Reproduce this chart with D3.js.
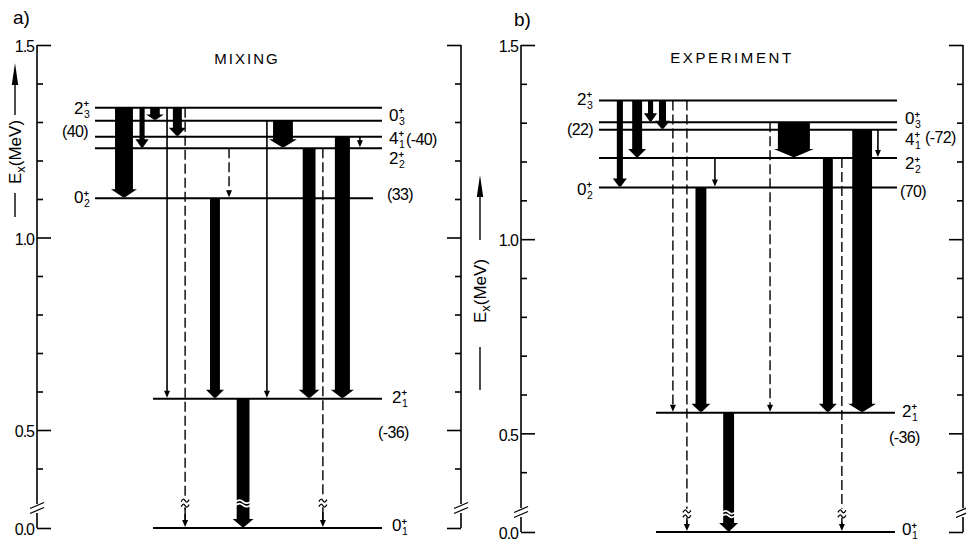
<!DOCTYPE html>
<html>
<head>
<meta charset="utf-8">
<script src="https://cdn.jsdelivr.net/npm/d3@7"></script>
<style>
  body { margin: 0; background: #fff; }
  text { font-family: "Liberation Sans", "DejaVu Sans", sans-serif; fill: #000; }
</style>
</head>
<body>
<svg id="chart" width="966" height="542"></svg>
<script>
// level order: 0_1, 2_1, 0_2, 2_2, 4_1, 0_3, 2_3
var levelKeys = ["01", "21", "02", "22", "41", "03", "23"];
var levelSpin = ["0", "2", "0", "2", "4", "0", "2"];
var levelIndex = ["1", "1", "2", "2", "1", "3", "3"];
var mixingEnergy = [0.0, 0.581, 1.102, 1.232, 1.262, 1.303, 1.337];
var experimentEnergy = [0.0, 0.553, 1.133, 1.209, 1.282, 1.301, 1.357];

var majorTicks = [1.5, 1.0, 0.5, 0.0];
var minorTicks = [1.4, 1.3, 1.2, 1.1, 0.9, 0.8, 0.7, 0.6, 0.4];

// transitions; strength 0 = weak (thin line), -1 = dashed
var mixingFrom = ["23", "23", "23", "23", "23", "23", "22", "02", "03", "03", "22", "22", "41", "41", "21"];
var mixingTo   = ["02", "22", "03", "21", "41", "01", "02", "21", "21", "22", "21", "01", "21", "22", "01"];
var mixingStrength = [56, 16, 30, 0, 28, -1, -1, 31, 0, 62, 40, -1, 47, 0, 40];
var mixingLane = [10.1, 16.4, 20.9, 25.1, 28.7, 31.4, 46.7, 41.8, 59.9, 65.5, 74.6, 79.4, 86.2, 92.3, 51.6];

var experimentFrom = ["23", "23", "23", "23", "23", "23", "22", "02", "03", "03", "22", "22", "41", "41", "21"];
var experimentTo   = ["02", "22", "03", "41", "21", "01", "02", "21", "21", "22", "21", "01", "21", "22", "01"];
var experimentStrength = [19, 31, 16, 22, -1, -1, 0, 34, -1, 100, 31, -1, 62, 0, 34];
var experimentLane = [7.0, 12.8, 17.3, 21.3, 24.8, 29.5, 38.9, 34.2, 57.4, 65.4, 76.8, 81.5, 88.3, 93.6, 43.5];

// quadrupole moments shown next to the levels
var mixingMoments = ["(40)", "(-40)", "(33)", "(-36)"];
var experimentMoments = ["(22)", "(-72)", "(70)", "(-36)"];

var svg = d3.select("#chart");
var ink = "#000";

var panels = [
  {
    tag: "a)", tagX: 13, tagY: 24, title: "MIXING", titleX: 247, titleY: 64, spacing: 2,
    energy: mixingEnergy, from: mixingFrom, to: mixingTo, strength: mixingStrength, lane: mixingLane,
    moments: mixingMoments,
    axisL: 37, axisR: 461, yRange: [528, 507, 45], breakE: 0.31, cutE: 0.3,
    xRange: [95, 382], lowX: [153, 382], end02: 373,
    labelX: 389, lowLabelX: 392, leftEnd: 91,
    rightDy: { "03": 0, "41": 7, "22": 16, "21": 4, "01": 3 },
    leftDy: { "23": 6, "02": 5 },
    momentPos: [[88, 137, "end"], [406, 145, "start"], [387, 200, "start"], [378, 438, "start"]],
    ylabX: 21, ylabText: 152, arrowTop: 63, arrowBot: 115, dashTop: 193, dashBot: 217
  },
  {
    tag: "b)", tagX: 514, tagY: 26, title: "EXPERIMENT", titleX: 732, titleY: 63, spacing: 2.6,
    energy: experimentEnergy, from: experimentFrom, to: experimentTo, strength: experimentStrength, lane: experimentLane,
    moments: experimentMoments,
    axisL: 521, axisR: 963, yRange: [532, 511, 45], breakE: 0.26, cutE: 0.3,
    xRange: [599, 897], lowX: [656, 895], end02: 897,
    labelX: 905, lowLabelX: 902, leftEnd: 594,
    rightDy: { "03": 2, "41": 15, "22": 11, "21": 4, "01": 3 },
    leftDy: { "23": 4, "02": 7 },
    momentPos: [[593, 135, "end"], [925, 143, "start"], [900, 197, "start"], [889, 443, "start"]],
    ylabX: 486, ylabText: 291, arrowTop: 175, arrowBot: 240, dashTop: 347, dashBot: 390
  }
];

var widthScale = d3.scaleLinear().domain([0, 100]).range([0, 32]);
var wave = d3.line().curve(d3.curveCardinal);

panels.forEach(function(p) {
  var g = svg.append("g");
  var y = d3.scaleLinear().domain([0, p.cutE, 1.5]).range(p.yRange);
  var x = d3.scaleLinear().domain([0, 100]).range(p.xRange);
  var E = {};
  levelKeys.forEach(function(k, i) { E[k] = p.energy[i]; });

  // tag + title
  g.append("text").attr("x", p.tagX).attr("y", p.tagY)
    .attr("font-family", "DejaVu Sans").attr("font-size", 19).text(p.tag);
  g.append("text").attr("x", p.titleX).attr("y", p.titleY).attr("text-anchor", "middle")
    .attr("font-size", 15).attr("letter-spacing", p.spacing).text(p.title);

  // axes
  var axL = g.append("g").attr("transform", "translate(" + p.axisL + ",0)");
  axL.call(d3.axisLeft(y).tickValues(majorTicks).tickSize(-14).tickSizeOuter(0)
      .tickPadding(3).tickFormat(d3.format(".1f")));
  axL.append("g").call(d3.axisLeft(y).tickValues(minorTicks).tickSize(-6).tickSizeOuter(0).tickFormat(""));
  var axR = g.append("g").attr("transform", "translate(" + p.axisR + ",0)");
  axR.call(d3.axisRight(y).tickValues(majorTicks).tickSize(-14).tickSizeOuter(0).tickFormat(""));
  axR.append("g").call(d3.axisRight(y).tickValues(minorTicks).tickSize(-6).tickSizeOuter(0).tickFormat(""));
  g.selectAll(".domain").remove();
  g.selectAll(".tick line").attr("stroke", ink).attr("stroke-width", 1.6);
  axL.selectAll(".tick text").attr("font-size", 16).attr("letter-spacing", -1)
    .attr("font-family", "Liberation Sans").attr("fill", ink).attr("dy", "0.42em");

  // axis spines with break
  var yb = y(p.cutE) + 1;
  [p.axisL, p.axisR].forEach(function(ax) {
    g.append("line").attr("x1", ax).attr("x2", ax).attr("y1", y(1.5)).attr("y2", yb - 4)
      .attr("stroke", ink).attr("stroke-width", 1.6);
    g.append("line").attr("x1", ax).attr("x2", ax).attr("y1", yb + 5).attr("y2", y(0))
      .attr("stroke", ink).attr("stroke-width", 1.6);
    [-2.5, 2.5].forEach(function(o) {
      g.append("line").attr("x1", ax - 7).attr("x2", ax + 7)
        .attr("y1", yb + o + 3).attr("y2", yb + o - 3)
        .attr("stroke", ink).attr("stroke-width", 1.3);
    });
  });

  // y axis title, rotated
  var yl = g.append("g");
  yl.append("text").attr("transform", "translate(" + p.ylabX + "," + p.ylabText + ") rotate(-90)")
    .attr("text-anchor", "middle").attr("font-size", 17)
    .call(function(t) {
      t.append("tspan").text("E");
      t.append("tspan").attr("font-size", 13).attr("dy", 4).text("x");
      t.append("tspan").attr("dy", -4).text("(MeV)");
    });
  var cx = p.ylabX - 6;
  yl.append("line").attr("x1", cx).attr("x2", cx).attr("y1", p.dashTop).attr("y2", p.dashBot)
    .attr("stroke", ink).attr("stroke-width", 1.4);
  yl.append("line").attr("x1", cx).attr("x2", cx).attr("y1", p.arrowTop + 12).attr("y2", p.arrowBot)
    .attr("stroke", ink).attr("stroke-width", 1.4);
  yl.append("path").attr("d", "M" + cx + "," + p.arrowTop + " L" + (cx + 3.2) + "," + (p.arrowTop + 22) +
      " L" + (cx - 3.2) + "," + (p.arrowTop + 22) + "Z").attr("fill", ink);

  // levels
  levelKeys.forEach(function(k) {
    var x0 = p.xRange[0], x1 = p.xRange[1];
    if (k === "21" || k === "01") { x0 = p.lowX[0]; x1 = p.lowX[1]; }
    if (k === "02") x1 = p.end02;
    g.append("line").attr("x1", x0).attr("x2", x1).attr("y1", y(E[k])).attr("y2", y(E[k]))
      .attr("stroke", ink).attr("stroke-width", 2);
  });

  // transitions
  p.from.forEach(function(f, i) {
    var xc = x(p.lane[i]), y1 = y(E[f]), y2 = y(E[p.to[i]]) - 1, s = p.strength[i];
    if (s > 0) {
      var w = widthScale(s), hw = w + 8, hl = Math.min(8, (y2 - y1) * 0.45);
      g.append("rect").attr("x", xc - w / 2).attr("y", y1).attr("width", w).attr("height", y2 - y1 - hl + 1)
        .attr("fill", ink);
      g.append("path").attr("d", "M" + (xc - hw / 2) + "," + (y2 - hl) + " L" + (xc + hw / 2) + "," + (y2 - hl) +
          " L" + (xc + 1) + "," + y2 + " L" + (xc - 1) + "," + y2 + "Z").attr("fill", ink);
      if (p.to[i] === "01") {
        var ybr = y(p.breakE);
        [-1.5, 2].forEach(function(o) {
          g.append("path").attr("d", wave([[xc - w / 2 - 4, ybr + o + 1.5], [xc - w / 4, ybr + o - 1.5],
              [xc + w / 4, ybr + o + 1.5], [xc + w / 2 + 4, ybr + o - 1.5]]))
            .attr("fill", "none").attr("stroke", "#fff").attr("stroke-width", 1.8);
        });
      }
    } else {
      var ln = g.append("line").attr("x1", xc).attr("x2", xc).attr("y1", y1).attr("y2", y2 - 5)
        .attr("stroke", ink).attr("stroke-width", s < 0 ? 1.4 : 1.6);
      if (s < 0) ln.attr("stroke-dasharray", "10,4");
      g.append("path").attr("d", "M" + (xc - 3) + "," + (y2 - 7) + " L" + (xc + 3) + "," + (y2 - 7) +
          " L" + xc + "," + y2 + "Z").attr("fill", ink);
      if (p.to[i] === "01") {
        var yq = y(p.breakE);
        g.append("rect").attr("x", xc - 5).attr("y", yq - 5).attr("width", 10).attr("height", 10).attr("fill", "#fff");
        [-2.5, 2.5].forEach(function(o) {
          g.append("path").attr("d", wave([[xc - 4, yq + o + 1], [xc - 1.5, yq + o - 1.5],
              [xc + 1.5, yq + o + 1.5], [xc + 4, yq + o - 1]]))
            .attr("fill", "none").attr("stroke", ink).attr("stroke-width", 1.3);
        });
        g.append("line").attr("x1", xc).attr("x2", xc).attr("y1", yq + 4).attr("y2", y2 - 5)
          .attr("stroke", ink).attr("stroke-width", 1.4);
      }
    }
  });

  // level labels
  function spinLabel(x0, yBase, k, alignEnd) {
    var i = levelKeys.indexOf(k);
    var lx = alignEnd ? x0 - 17 : x0;
    var t = g.append("g").attr("transform", "translate(" + lx + "," + yBase + ")");
    t.append("text").attr("font-size", 17).text(levelSpin[i]);
    t.append("text").attr("x", 9.5).attr("y", -6.5).attr("font-size", 9.5).attr("font-weight", "bold").text("+");
    t.append("text").attr("x", 10).attr("y", 4).attr("font-size", 10.5).text(levelIndex[i]);
  }
  Object.keys(p.leftDy).forEach(function(k) {
    spinLabel(p.leftEnd, y(E[k]) + p.leftDy[k], k, true);
  });
  Object.keys(p.rightDy).forEach(function(k) {
    var lx = (k === "21" || k === "01") ? p.lowLabelX : p.labelX;
    spinLabel(lx, y(E[k]) + p.rightDy[k], k, false);
  });
  p.moments.forEach(function(m, i) {
    var pos = p.momentPos[i];
    g.append("text").attr("x", pos[0]).attr("y", pos[1]).attr("text-anchor", pos[2])
      .attr("font-size", 16).attr("letter-spacing", -0.6).text(m);
  });
});
</script>
</body>
</html>
